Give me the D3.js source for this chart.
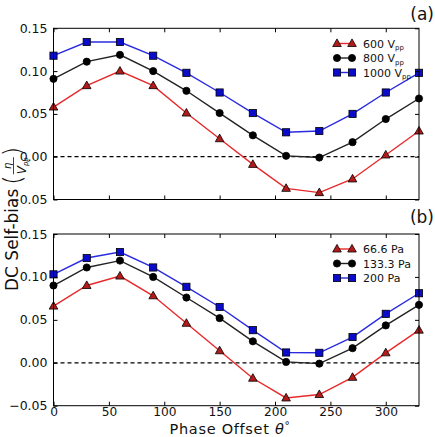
<!DOCTYPE html>
<html><head><meta charset="utf-8">
<script src="https://cdn.jsdelivr.net/npm/d3@7"></script>
<style>body{margin:0;background:#fff}svg{display:block;font-family:"DejaVu Sans",sans-serif}</style>
</head><body>
<svg id="c" width="435" height="437"></svg>
<script>
const phase = [0,30,60,90,120,150,180,210,240,270,300,330];
const xTicks = [0,50,100,150,200,250,300];
const yTicks = [-0.05,0,0.05,0.10,0.15];
const yTickLabels = ["\u22120.05","0.00","0.05","0.10","0.15"];
// panel (a): voltage
const labelsA = ["600 V","800 V","1000 V"];
const v600  = [0.058,0.083,0.100,0.083,0.051,0.021,-0.009,-0.037,-0.042,-0.026,0.002,0.030];
const v800  = [0.091,0.111,0.119,0.100,0.077,0.051,0.025,0.001,-0.001,0.017,0.044,0.068];
const v1000 = [0.118,0.134,0.134,0.118,0.098,0.075,0.051,0.0285,0.030,0.050,0.075,0.098];
// panel (b): pressure
const labelsB = ["66.6 Pa","133.3 Pa","200 Pa"];
const p66  = [0.066,0.090,0.101,0.078,0.046,0.014,-0.018,-0.041,-0.037,-0.017,0.0116,0.038];
const p133 = [0.090,0.111,0.119,0.100,0.076,0.052,0.025,0.001,-0.001,0.017,0.0435,0.0675];
const p200 = [0.103,0.122,0.129,0.111,0.0885,0.065,0.038,0.012,0.0116,0.030,0.057,0.081];

const styles = [
  {line:"#e8292b", fill:"#b31b1b", shape:"tri"},
  {line:"#222222", fill:"#000000", shape:"circ"},
  {line:"#2a2ae0", fill:"#0b0bcc", shape:"sq"}
];
const svg = d3.select("#c");
const L = 53.5, R = 419;
const x = d3.scaleLinear().domain([0,330]).range([L,R]);

function marker(g, shape, cx, cy, fill){
  if(shape==="circ") g.append("circle").attr("cx",cx).attr("cy",cy).attr("r",3.6).attr("fill",fill).attr("stroke","#000").attr("stroke-width",0.8);
  else if(shape==="sq") g.append("rect").attr("x",cx-3.6).attr("y",cy-3.6).attr("width",7.2).attr("height",7.2).attr("fill",fill).attr("stroke","#000").attr("stroke-width",0.8);
  else g.append("path").attr("d",`M${cx},${cy-4.6}L${cx+4.3},${cy+3}L${cx-4.3},${cy+3}Z`).attr("fill",fill).attr("stroke","#000").attr("stroke-width",0.8);
}

function panel(top, bottom, series, labels, sub, showX, tag, tagY, legY){
  const y = d3.scaleLinear().domain([-0.05,0.15]).range([bottom, top]);
  const g = svg.append("g");
  g.append("line").attr("x1",L).attr("x2",R).attr("y1",y(0)).attr("y2",y(0))
    .attr("stroke","#000").attr("stroke-width",1.2).attr("stroke-dasharray","4,3");
  const line = d3.line().x((d,i)=>x(phase[i])).y(d=>y(d));
  series.forEach((s,k)=>{
    g.append("path").attr("d",line(s)).attr("fill","none").attr("stroke",styles[k].line).attr("stroke-width",1.4);
    s.forEach((v,i)=>marker(g, styles[k].shape, x(phase[i]), y(v), styles[k].fill));
  });
  g.append("rect").attr("x",L).attr("y",top).attr("width",R-L).attr("height",bottom-top)
    .attr("fill","none").attr("stroke","#000").attr("stroke-width",1);
  const ax = g.append("g").attr("transform",`translate(0,${bottom})`)
    .call(d3.axisBottom(x).tickValues(xTicks).tickSizeInner(-4).tickSizeOuter(0).tickPadding(2));
  const axT = g.append("g").attr("transform",`translate(0,${top})`)
    .call(d3.axisTop(x).tickValues(xTicks).tickSizeInner(-4).tickSizeOuter(0).tickFormat(""));
  const ay = g.append("g").attr("transform",`translate(${L},0)`)
    .call(d3.axisLeft(y).tickValues(yTicks).tickSizeInner(-4).tickSizeOuter(0).tickPadding(6)
      .tickFormat((d,i)=>yTickLabels[i]));
  const ayR = g.append("g").attr("transform",`translate(${R},0)`)
    .call(d3.axisRight(y).tickValues(yTicks).tickSizeInner(-4).tickSizeOuter(0).tickFormat(""));
  [ax,axT,ay,ayR].forEach(a=>{a.select(".domain").remove(); a.selectAll("line").attr("stroke","#000");
    a.selectAll("text").attr("font-family","DejaVu Sans").attr("font-size",12.5).attr("fill","#111");});
  if(!showX) ax.selectAll("text").remove();
  else ax.selectAll("text").attr("font-size",12.2);
  svg.append("text").attr("x",434).attr("y",tagY).attr("text-anchor","end").attr("font-size",17).attr("fill","#111").text(tag);
  const lg = svg.append("g");
  labels.forEach((lab,k)=>{
    const yy = legY + k*14.5;
    lg.append("line").attr("x1",337).attr("x2",352).attr("y1",yy).attr("y2",yy).attr("stroke",styles[k].line).attr("stroke-width",1.4);
    marker(lg, styles[k].shape, 337, yy, styles[k].fill);
    marker(lg, styles[k].shape, 352, yy, styles[k].fill);
    const t = lg.append("text").attr("x",363).attr("y",yy+4).attr("font-size",11).attr("fill","#111").text(lab);
    if(sub) t.append("tspan").attr("font-size",7).attr("dy",2.5).text("pp");
  });
}

panel(28.3, 199.5, [v600,v800,v1000], labelsA, true, false, "(a)", 20, 43.5);
panel(234, 405.7, [p66,p133,p200], labelsB, false, true, "(b)", 223, 249);

// x label
const xl = svg.append("text").attr("x",230).attr("y",433.6).attr("text-anchor","middle").attr("font-size",14.5)
  .attr("letter-spacing",0.7).attr("fill","#111");
xl.append("tspan").text("Phase Offset ");
xl.append("tspan").attr("font-style","italic").text("\u03b8");
xl.append("tspan").attr("font-size",10.5).attr("dy",-5).text("\u00b0");

// y label (rotated, with fraction)
const yl = svg.append("g").attr("transform","translate(18,0) rotate(-90)");
const t1 = yl.append("text").attr("x",-291).attr("y",0).attr("font-size",17).attr("fill","#111").text("DC Self-bias");
let cx = -291 + t1.node().getComputedTextLength() + 4;
const p1 = yl.append("text").attr("x",cx).attr("y",3).attr("font-size",24).attr("font-weight",200).attr("fill","#111").text("(");
cx += p1.node().getComputedTextLength()+1;
const num = yl.append("text").attr("x",cx+6).attr("y",-7.5).attr("font-size",10).attr("font-style","italic").attr("text-anchor","middle").attr("fill","#111").text("\u03b7");
const den = yl.append("text").attr("x",cx).attr("y",7.5).attr("font-size",12).attr("font-style","italic").attr("fill","#111").text("V");
den.append("tspan").attr("font-size",7).attr("dy",2).attr("font-style","italic").text("pp");
const dw = den.node().getComputedTextLength();
yl.append("line").attr("x1",cx).attr("x2",cx+dw).attr("y1",-4.5).attr("y2",-4.5).attr("stroke","#111").attr("stroke-width",0.8);
num.attr("x",cx+dw/2);
cx += dw + 1;
yl.append("text").attr("x",cx).attr("y",3).attr("font-size",24).attr("font-weight",200).attr("fill","#111").text(")");
</script>
</body></html>
